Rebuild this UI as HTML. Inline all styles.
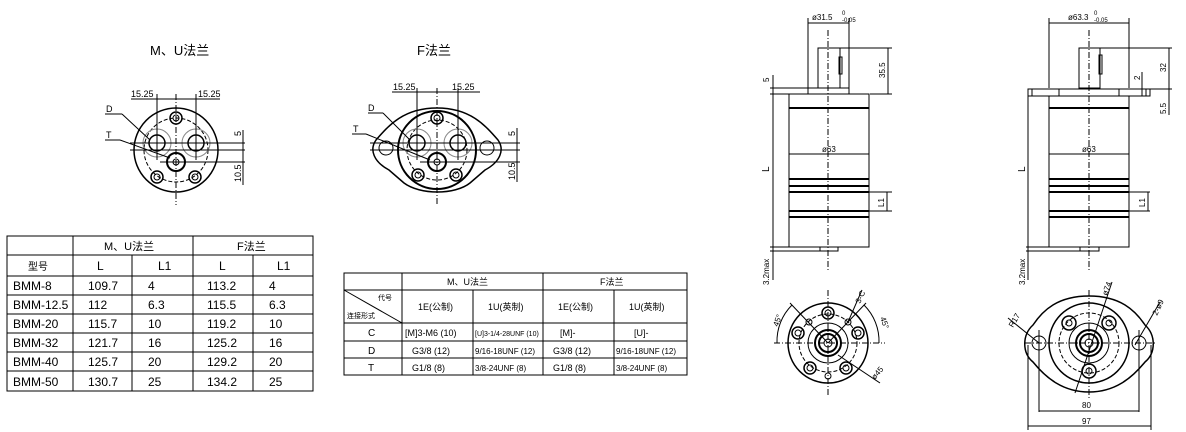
<!DOCTYPE html>
<html><head><meta charset="utf-8"><style>
html,body{margin:0;padding:0;background:#fff}
svg{display:block}
text{font-family:"Liberation Sans","Noto Sans CJK SC",sans-serif;fill:#000}
</style></head><body>
<svg width="1186" height="432" viewBox="0 0 1186 432" xmlns="http://www.w3.org/2000/svg">
<g fill="none" stroke="#000" stroke-width="1">
<!-- ===== M,U flange ===== -->
<circle cx="176" cy="150" r="42" stroke-width="1.5"/>
<circle cx="176" cy="150" r="32" stroke-dasharray="4,2"/>
<circle cx="157" cy="143" r="14" stroke="#888"/>
<circle cx="196" cy="143" r="14" stroke="#888"/>
<circle cx="157" cy="143" r="8" stroke-width="1.5"/>
<circle cx="196" cy="143" r="8" stroke-width="1.5"/>
<circle cx="176" cy="162" r="9" stroke-width="2"/>
<circle cx="176" cy="162" r="3"/>
<circle cx="176" cy="118" r="6" stroke-width="1.5"/><circle cx="176" cy="118" r="3"/>
<circle cx="157" cy="177" r="6" stroke-width="1.5"/><circle cx="157" cy="177" r="3"/>
<circle cx="195" cy="177" r="6" stroke-width="1.5"/><circle cx="195" cy="177" r="3"/>
<line x1="176" y1="94" x2="176" y2="205" stroke-dasharray="6,2,1,2"/>
<line x1="130" y1="143" x2="245" y2="143"/>
<line x1="130" y1="150" x2="245" y2="150"/>
<line x1="160" y1="162" x2="245" y2="162"/>
<line x1="157" y1="94" x2="157" y2="160"/><line x1="196" y1="94" x2="196" y2="160"/>
<line x1="131" y1="99" x2="220" y2="99"/>
<line x1="243" y1="130" x2="243" y2="185"/>
<line x1="105" y1="114" x2="122" y2="114"/><line x1="122" y1="114" x2="150" y2="140"/>
<line x1="105" y1="140" x2="120" y2="140"/><line x1="120" y1="140" x2="170" y2="158"/>
<!-- ===== F flange ===== -->
<path d="M437 108 C470 108 485 125 498 140 C505 150 500 162 485 170 L470 183 C455 195 420 195 404 183 L389 170 C374 162 369 150 376 140 C389 125 404 108 437 108Z" stroke-width="1.5"/>
<circle cx="437" cy="150" r="39" stroke-width="2"/>
<circle cx="437" cy="150" r="30" stroke-dasharray="4,2"/>
<circle cx="386" cy="148" r="7"/><circle cx="487" cy="148" r="7"/>
<circle cx="417" cy="143" r="14" stroke="#888"/><circle cx="458" cy="143" r="14" stroke="#888"/>
<circle cx="417" cy="143" r="8" stroke-width="1.5"/><circle cx="458" cy="143" r="8" stroke-width="1.5"/>
<circle cx="437" cy="162" r="9" stroke-width="2"/><circle cx="437" cy="162" r="3"/>
<circle cx="437" cy="118" r="6" stroke-width="1.5"/><circle cx="437" cy="118" r="3"/>
<circle cx="418" cy="175" r="6" stroke-width="1.5"/><circle cx="418" cy="175" r="3"/>
<circle cx="456" cy="175" r="6" stroke-width="1.5"/><circle cx="456" cy="175" r="3"/>
<line x1="437" y1="88" x2="437" y2="205" stroke-dasharray="6,2,1,2"/>
<line x1="370" y1="143" x2="520" y2="143"/><line x1="370" y1="150" x2="520" y2="150"/>
<line x1="420" y1="162" x2="520" y2="162"/>
<line x1="417" y1="88" x2="417" y2="160"/><line x1="458" y1="88" x2="458" y2="160"/>
<line x1="392" y1="92" x2="480" y2="92"/>
<line x1="517" y1="128" x2="517" y2="182"/>
<line x1="368" y1="113" x2="383" y2="113"/><line x1="383" y1="113" x2="410" y2="140"/>
<line x1="352" y1="134" x2="366" y2="134"/><line x1="366" y1="134" x2="430" y2="160"/>
<!-- ===== Table 1 ===== -->
<rect x="7" y="236" width="306" height="155"/>
<line x1="7" y1="255" x2="313" y2="255"/><line x1="7" y1="276" x2="313" y2="276"/>
<line x1="7" y1="295" x2="313" y2="295"/><line x1="7" y1="314" x2="313" y2="314"/>
<line x1="7" y1="333" x2="313" y2="333"/><line x1="7" y1="352" x2="313" y2="352"/>
<line x1="7" y1="371" x2="313" y2="371"/>
<line x1="73" y1="236" x2="73" y2="391"/><line x1="193" y1="236" x2="193" y2="391"/>
<line x1="132" y1="255" x2="132" y2="391"/><line x1="253" y1="255" x2="253" y2="391"/>
<!-- ===== Table 2 ===== -->
<rect x="344" y="273" width="343" height="102"/>
<line x1="344" y1="290" x2="687" y2="290"/><line x1="344" y1="323" x2="687" y2="323"/>
<line x1="344" y1="341" x2="687" y2="341"/><line x1="344" y1="358" x2="687" y2="358"/>
<line x1="402" y1="273" x2="402" y2="375"/><line x1="543" y1="273" x2="543" y2="375"/>
<line x1="473" y1="290" x2="473" y2="375"/><line x1="614" y1="290" x2="614" y2="375"/>
<line x1="344" y1="290" x2="402" y2="323"/>
<!-- ===== Left motor side ===== -->
<rect x="789" y="94" width="80" height="153"/>
<rect x="808" y="88" width="41" height="6"/>
<rect x="818" y="48" width="22" height="40"/>
<rect x="839" y="57" width="3" height="17"/>
<rect x="820" y="247" width="18" height="4"/>
<line x1="789" y1="108" x2="869" y2="108" stroke-width="2"/>
<line x1="789" y1="179" x2="869" y2="179" stroke-width="2"/>
<line x1="789" y1="186" x2="869" y2="186" stroke-width="2"/>
<line x1="789" y1="192" x2="869" y2="192" stroke-width="2"/>
<line x1="789" y1="211" x2="869" y2="211" stroke-width="2"/>
<line x1="789" y1="217" x2="869" y2="217" stroke-width="2"/>
<line x1="828" y1="30" x2="828" y2="270" stroke-dasharray="6,2,1,2"/>
<line x1="808" y1="18" x2="808" y2="88"/><line x1="849" y1="18" x2="849" y2="88"/>
<line x1="808" y1="23" x2="849" y2="23"/>
<line x1="840" y1="48" x2="892" y2="48"/><line x1="870" y1="94" x2="892" y2="94"/>
<line x1="888" y1="48" x2="888" y2="94"/>
<line x1="770" y1="88" x2="808" y2="88"/><line x1="770" y1="94" x2="789" y2="94"/>
<line x1="773" y1="75" x2="773" y2="100"/>
<line x1="773" y1="94" x2="773" y2="280"/>
<line x1="770" y1="247" x2="820" y2="247"/><line x1="770" y1="251" x2="820" y2="251"/>
<line x1="789" y1="154" x2="869" y2="154"/>
<line x1="869" y1="192" x2="892" y2="192"/><line x1="869" y1="211" x2="892" y2="211"/>
<line x1="887" y1="192" x2="887" y2="211"/>
<!-- Left bottom view -->
<circle cx="828" cy="343" r="40" stroke-width="1.5"/>
<circle cx="828" cy="343" r="29" stroke-dasharray="4,2"/>
<circle cx="828" cy="343" r="20"/>
<circle cx="828" cy="343" r="13" stroke-width="2"/>
<circle cx="828" cy="343" r="9" stroke-width="2"/>
<circle cx="828" cy="343" r="4"/>
<circle cx="828" cy="313" r="6" stroke-width="1.5"/><circle cx="828" cy="313" r="3"/>
<circle cx="798" cy="333" r="6" stroke-width="1.5"/><circle cx="798" cy="333" r="3"/>
<circle cx="858" cy="333" r="6" stroke-width="1.5"/><circle cx="858" cy="333" r="3"/>
<circle cx="810" cy="368" r="6" stroke-width="1.5"/><circle cx="810" cy="368" r="3"/>
<circle cx="846" cy="368" r="6" stroke-width="1.5"/><circle cx="846" cy="368" r="3"/>
<circle cx="809" cy="322" r="3"/><circle cx="848" cy="322" r="3"/><circle cx="828" cy="376" r="3"/>
<line x1="828" y1="290" x2="828" y2="395" stroke-dasharray="6,2,1,2"/>
<line x1="774" y1="343" x2="885" y2="343" stroke-dasharray="6,2,1,2"/>
<path d="M777 343 A51 51 0 0 1 792 305"/>
<path d="M864 305 A51 51 0 0 1 879 343"/>
<line x1="790" y1="303" x2="828" y2="343"/><line x1="866" y1="303" x2="828" y2="343"/>
<line x1="862" y1="290" x2="848" y2="322"/>
<line x1="838" y1="355" x2="880" y2="383"/>
<!-- ===== Right motor side ===== -->
<rect x="1049" y="96" width="80" height="151"/>
<rect x="1028" y="89" width="122" height="7"/>
<line x1="1032" y1="89" x2="1032" y2="96"/><line x1="1146" y1="89" x2="1146" y2="96"/>
<line x1="1059" y1="89" x2="1059" y2="96"/><line x1="1119" y1="89" x2="1119" y2="96"/>
<rect x="1079" y="48" width="21" height="40"/>
<rect x="1099" y="55" width="3" height="19"/>
<rect x="1080" y="247" width="19" height="4"/>
<line x1="1049" y1="108" x2="1129" y2="108" stroke-width="2"/>
<line x1="1049" y1="179" x2="1129" y2="179" stroke-width="2"/>
<line x1="1049" y1="186" x2="1129" y2="186" stroke-width="2"/>
<line x1="1049" y1="192" x2="1129" y2="192" stroke-width="2"/>
<line x1="1049" y1="211" x2="1129" y2="211" stroke-width="2"/>
<line x1="1049" y1="217" x2="1129" y2="217" stroke-width="2"/>
<line x1="1089" y1="30" x2="1089" y2="270" stroke-dasharray="6,2,1,2"/>
<line x1="1049" y1="18" x2="1049" y2="88"/><line x1="1129" y1="18" x2="1129" y2="88"/>
<line x1="1049" y1="23" x2="1129" y2="23"/>
<line x1="1100" y1="48" x2="1172" y2="48"/>
<line x1="1150" y1="89" x2="1172" y2="89"/>
<line x1="1169" y1="48" x2="1169" y2="115"/>
<line x1="1142" y1="72" x2="1142" y2="96"/>
<line x1="1028" y1="94" x2="1028" y2="280"/>
<line x1="1026" y1="247" x2="1080" y2="247"/><line x1="1026" y1="251" x2="1080" y2="251"/>
<line x1="1049" y1="154" x2="1129" y2="154"/>
<line x1="1129" y1="192" x2="1150" y2="192"/><line x1="1129" y1="211" x2="1150" y2="211"/>
<line x1="1148" y1="192" x2="1148" y2="211"/>
<!-- Right bottom view -->
<path d="M1089 296 C1120 296 1135 310 1145 325 C1156 335 1156 353 1145 362 C1132 378 1115 392 1089 392 C1063 392 1046 378 1033 362 C1022 353 1022 335 1033 325 C1043 310 1058 296 1089 296Z" stroke-width="1.5"/>
<circle cx="1089" cy="343" r="40" stroke-width="1.5"/>
<circle cx="1089" cy="343" r="30" stroke-dasharray="4,2"/>
<circle cx="1089" cy="343" r="20"/>
<circle cx="1089" cy="343" r="13" stroke-width="2"/>
<circle cx="1089" cy="343" r="9" stroke-width="2"/>
<circle cx="1089" cy="343" r="4"/>
<circle cx="1069" cy="323" r="7" stroke-width="1.5"/><circle cx="1069" cy="323" r="3"/>
<circle cx="1109" cy="323" r="7" stroke-width="1.5"/><circle cx="1109" cy="323" r="3"/>
<circle cx="1089" cy="371" r="7" stroke-width="1.5"/><circle cx="1089" cy="371" r="3"/>
<circle cx="1039" cy="343" r="7"/><circle cx="1139" cy="343" r="7"/>
<line x1="1089" y1="290" x2="1089" y2="400" stroke-dasharray="6,2,1,2"/>
<line x1="1025" y1="343" x2="1155" y2="343" stroke-dasharray="6,2,1,2"/>
<line x1="1039" y1="330" x2="1039" y2="412"/><line x1="1139" y1="330" x2="1139" y2="412"/>
<line x1="1028" y1="345" x2="1028" y2="430"/><line x1="1151" y1="345" x2="1151" y2="430"/>
<line x1="1039" y1="411" x2="1139" y2="411"/>
<line x1="1028" y1="426" x2="1151" y2="426"/>
<line x1="1008" y1="318" x2="1039" y2="343"/>
<line x1="1112" y1="282" x2="1075" y2="393"/>
<line x1="1160" y1="302" x2="1135" y2="345"/>
</g>
<!-- ===== Text ===== -->
<g font-size="12">
<text x="150" y="55" font-size="13">M、U法兰</text>
<text x="417" y="55" font-size="13">F法兰</text>
<text x="131" y="97" font-size="9">15.25</text><text x="198" y="97" font-size="9">15.25</text>
<text x="393" y="90" font-size="9">15.25</text><text x="452" y="90" font-size="9">15.25</text>
<text x="106" y="112" font-size="9">D</text><text x="106" y="138" font-size="9">T</text>
<text x="368" y="111" font-size="9">D</text><text x="353" y="132" font-size="9">T</text>
<text font-size="9" transform="translate(241,136) rotate(-90)">5</text>
<text font-size="9" transform="translate(241,182) rotate(-90)">10.5</text>
<text font-size="9" transform="translate(515,136) rotate(-90)">5</text>
<text font-size="9" transform="translate(515,180) rotate(-90)">10.5</text>
<!-- table 1 -->
<text x="104" y="250" font-size="11">M、U法兰</text><text x="237" y="250" font-size="11">F法兰</text>
<text x="28" y="270" font-size="10">型号</text>
<text x="97" y="270">L</text><text x="158" y="270">L1</text><text x="219" y="270">L</text><text x="277" y="270">L1</text>
<text x="13" y="290">BMM-8</text><text x="88" y="290">109.7</text><text x="148" y="290">4</text><text x="207" y="290">113.2</text><text x="269" y="290">4</text>
<text x="13" y="309">BMM-12.5</text><text x="88" y="309">112</text><text x="148" y="309">6.3</text><text x="207" y="309">115.5</text><text x="269" y="309">6.3</text>
<text x="13" y="328">BMM-20</text><text x="88" y="328">115.7</text><text x="148" y="328">10</text><text x="207" y="328">119.2</text><text x="269" y="328">10</text>
<text x="13" y="347">BMM-32</text><text x="88" y="347">121.7</text><text x="148" y="347">16</text><text x="207" y="347">125.2</text><text x="269" y="347">16</text>
<text x="13" y="366">BMM-40</text><text x="88" y="366">125.7</text><text x="148" y="366">20</text><text x="207" y="366">129.2</text><text x="269" y="366">20</text>
<text x="13" y="386">BMM-50</text><text x="88" y="386">130.7</text><text x="148" y="386">25</text><text x="207" y="386">134.2</text><text x="269" y="386">25</text>
<!-- table 2 -->
<g font-size="9">
<text x="447" y="285">M、U法兰</text><text x="600" y="285">F法兰</text>
<text x="378" y="300" font-size="7">代号</text><text x="347" y="318" font-size="7">连接形式</text>
<text x="418" y="310">1E(公制)</text><text x="488" y="310">1U(英制)</text>
<text x="558" y="310">1E(公制)</text><text x="629" y="310">1U(英制)</text>
<text x="368" y="336" font-size="10">C</text><text x="405" y="336">[M]3-M6 (10)</text><text x="475" y="336" font-size="7">[U]3-1/4-28UNF (10)</text>
<text x="560" y="336">[M]-</text><text x="634" y="336">[U]-</text>
<text x="368" y="354" font-size="10">D</text><text x="412" y="354">G3/8 (12)</text><text x="475" y="354" font-size="8">9/16-18UNF (12)</text>
<text x="553" y="354">G3/8 (12)</text><text x="616" y="354" font-size="8">9/16-18UNF (12)</text>
<text x="368" y="371" font-size="10">T</text><text x="412" y="371">G1/8 (8)</text><text x="475" y="371" font-size="8">3/8-24UNF (8)</text>
<text x="553" y="371">G1/8 (8)</text><text x="616" y="371" font-size="8">3/8-24UNF (8)</text>
</g>
<!-- right drawings text -->
<g font-size="8">
<text x="812" y="20">ø31.5</text><text x="842" y="15" font-size="6">0</text><text x="842" y="22" font-size="6">-0.05</text>
<text x="1068" y="20">ø63.3</text><text x="1094" y="15" font-size="6">0</text><text x="1094" y="22" font-size="6">-0.05</text>
<text x="822" y="152">ø63</text><text x="1082" y="152">ø63</text>
<text transform="translate(885,78) rotate(-90)">35.5</text>
<text transform="translate(769,82) rotate(-90)">5</text>
<text transform="translate(769,172) rotate(-90)" font-size="10">L</text>
<text transform="translate(769,285) rotate(-90)">3.2max</text>
<text transform="translate(884,207) rotate(-90)">L1</text>
<text transform="translate(1166,72) rotate(-90)">32</text>
<text transform="translate(1140,80) rotate(-90)">2</text>
<text transform="translate(1166,114) rotate(-90)">5.5</text>
<text transform="translate(1025,172) rotate(-90)" font-size="10">L</text>
<text transform="translate(1025,285) rotate(-90)">3.2max</text>
<text transform="translate(1145,207) rotate(-90)">L1</text>
<text transform="translate(778,327) rotate(-70)">45°</text>
<text transform="translate(880,318) rotate(70)">45°</text>
<text transform="translate(860,304) rotate(-65)">3-C</text>
<text transform="translate(875,380) rotate(-50)">ø45</text>
<text transform="translate(1013,328) rotate(-60)">R17</text>
<text transform="translate(1107,296) rotate(-70)">ø74</text>
<text transform="translate(1157,316) rotate(-65)">2-ø9</text>
<text x="1082" y="408">80</text><text x="1082" y="424">97</text>
</g>
</g>
</svg>
</body></html>
